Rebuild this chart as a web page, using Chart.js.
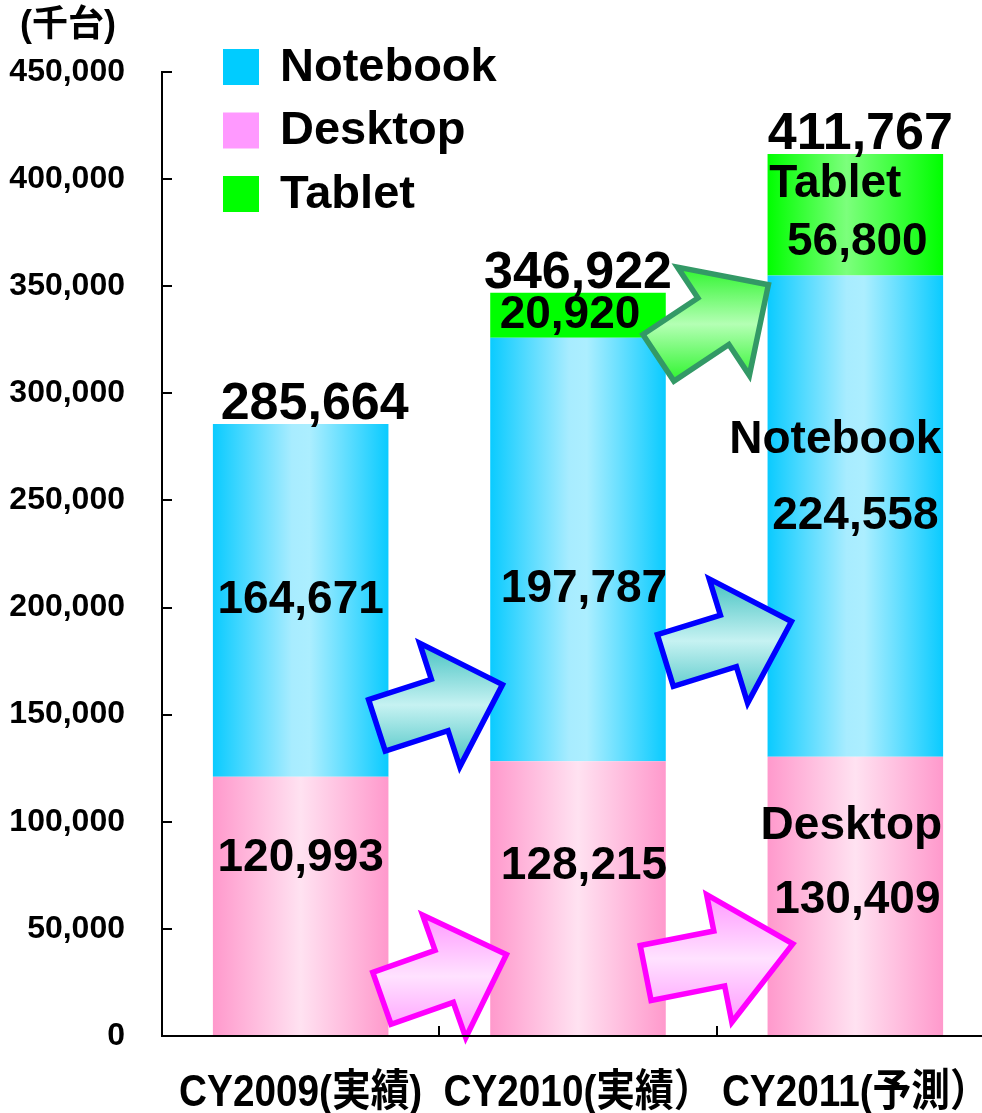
<!DOCTYPE html>
<html>
<head>
<meta charset="utf-8">
<script src="https://cdn.jsdelivr.net/npm/chart.js@4.4.0/dist/chart.umd.min.js"></script>
<style>
  html, body { margin: 0; padding: 0; background: #fff; overflow: hidden; }
  #wrap { width: 994px; height: 1113px; }
</style>
</head>
<body>
<div id="wrap"><canvas id="myChart" width="994" height="1113"></canvas></div>
<script>
const years = ['CY2009(実績)', 'CY2010(実績）', 'CY2011(予測）'];
const desktop = [120993, 128215, 130409];
const notebook = [164671, 197787, 224558];
const tablet = [null, 20920, 56800];
const totals = [285664, 346922, 411767];
const yTicks = [0, 50000, 100000, 150000, 200000, 250000, 300000, 350000, 400000, 450000];
const seriesNames = ['Desktop', 'Notebook', 'Tablet'];

const FONT = '"Liberation Sans", Arial, "Noto Sans CJK JP", sans-serif';
const barPct = 0.633;

const barFill = (stops, solidAt) => (ctx) => {
  const chart = ctx.chart;
  if (!chart.chartArea || ctx.dataIndex === undefined) return stops[0][1];
  if (solidAt && solidAt[ctx.dataIndex]) return solidAt[ctx.dataIndex];
  const xs = chart.scales.x;
  const cx = xs.getPixelForValue(ctx.dataIndex);
  const half = xs.width / years.length * barPct / 2;
  const g = chart.ctx.createLinearGradient(cx - half, 0, cx + half, 0);
  stops.forEach(([o, c]) => g.addColorStop(o, c));
  return g;
};

// decorative trend arrows (tail position in category / value units)
const arrows = [
  {at: [0.275, 145000], angle: -18, len: 132, headLen: 66, shaft: 54, head: 130, stroke: '#0000FF', fill: ['#44C2C2', '#C6F2F2', '#44C2C2']},
  {at: [1.315, 175300], angle: -17.2, len: 132, headLen: 66, shaft: 54, head: 130, stroke: '#0000FF', fill: ['#44C2C2', '#C6F2F2', '#44C2C2']},
  {at: [0.293, 17600], angle: -19.4, len: 132, headLen: 66, shaft: 55, head: 130, stroke: '#FF00FF', fill: ['#FF99FF', '#FFE2FF', '#FF99FF']},
  {at: [1.244, 29400], angle: -11.2, len: 150, headLen: 75, shaft: 56, head: 130, stroke: '#FF00FF', fill: ['#FF99FF', '#FFE2FF', '#FF99FF']},
  {at: [1.290, 316600], angle: -33.6, len: 132, headLen: 66, shaft: 56, head: 130, stroke: '#339966', fill: ['#2EF52E', '#B4FFB4', '#2EF52E']}
];

const drawArrow = (ctx, a, xs, ys) => {
  const x0 = xs.getPixelForValue(0), step = xs.getPixelForValue(1) - x0;
  const tx = x0 + a.at[0] * step, ty = ys.getPixelForValue(a.at[1]);
  const sw = a.shaft / 2, hw = a.head / 2, L = a.len, H = a.len - a.headLen;
  const local = [[0, -sw], [H, -sw], [H, -hw], [L, 0], [H, hw], [H, sw], [0, sw]];
  const r = a.angle * Math.PI / 180, c = Math.cos(r), s = Math.sin(r);
  const pts = local.map(([u, v]) => [tx + u * c - v * s, ty + u * s + v * c]);
  const ysArr = pts.map(p => p[1]);
  const top = Math.min(...ysArr), bot = Math.max(...ysArr);
  const g = ctx.createLinearGradient(0, top, 0, bot);
  g.addColorStop(0, a.fill[0]);
  g.addColorStop(0.5, a.fill[1]);
  g.addColorStop(1, a.fill[2]);
  ctx.beginPath();
  pts.forEach(([px, py], i) => i ? ctx.lineTo(px, py) : ctx.moveTo(px, py));
  ctx.closePath();
  ctx.fillStyle = g;
  ctx.fill();
  ctx.lineWidth = 5.5;
  ctx.lineJoin = 'miter';
  ctx.strokeStyle = a.stroke;
  ctx.stroke();
};

// label nudges in px: [series][year]
const valueNudge = [[-48, -32, 4], [0, 40, 0], [0, 0, 28]];
const valueShiftX = [[0, 6, 2], [0, 6, 0], [0, -8, 2]];
const nameNudge = [[null, null, -70], [null, null, -76], [null, null, -30]];
const nameShiftX = [-4, -20, -20];
const totalShiftX = [14, 0, 5];

const decor = {
  id: 'decor',
  afterDatasetsDraw(chart) {
    const ctx = chart.ctx;
    const xs = chart.scales.x, ys = chart.scales.y;
    ctx.save();
    arrows.forEach(a => drawArrow(ctx, a, xs, ys));

    ctx.fillStyle = '#000';
    ctx.textAlign = 'center';
    ctx.textBaseline = 'middle';
    chart.data.datasets.forEach((ds, di) => {
      const meta = chart.getDatasetMeta(di);
      meta.data.forEach((el, i) => {
        const v = ds.data[i];
        if (v === null) return;
        const cy = (el.y + el.base) / 2;
        ctx.font = 'bold 46px ' + FONT;
        ctx.fillText(v.toLocaleString('en-US'), el.x + valueShiftX[di][i], cy + valueNudge[di][i]);
        if (nameNudge[di][i] !== null) {
          ctx.fillText(seriesNames[di], el.x + nameShiftX[di], cy + nameNudge[di][i]);
        }
      });
    });

    ctx.textBaseline = 'alphabetic';
    ctx.font = 'bold 52px ' + FONT;
    totals.forEach((t, i) => {
      ctx.fillText(t.toLocaleString('en-US'), xs.getPixelForValue(i) + totalShiftX[i], ys.getPixelForValue(t) - 5);
    });
    ctx.restore();
  },
  afterDraw(chart) {
    const ctx = chart.ctx;
    const xs = chart.scales.x, ys = chart.scales.y;
    const area = chart.chartArea;
    ctx.save();
    ctx.strokeStyle = '#000';
    ctx.lineWidth = 2;
    ctx.beginPath();
    yTicks.forEach(v => {
      const y = Math.round(ys.getPixelForValue(v));
      ctx.moveTo(area.left, y);
      ctx.lineTo(area.left + 10, y);
    });
    for (let i = 0; i < years.length - 1; i++) {
      const x = Math.round((xs.getPixelForValue(i) + xs.getPixelForValue(i + 1)) / 2);
      ctx.moveTo(x, area.bottom);
      ctx.lineTo(x, area.bottom - 10);
    }
    ctx.moveTo(area.left, area.bottom);
    ctx.lineTo(chart.width, area.bottom);
    ctx.stroke();

    // category labels, horizontally condensed like the original
    ctx.fillStyle = '#000';
    ctx.textAlign = 'center';
    ctx.textBaseline = 'middle';
    ctx.font = 'bold 44px ' + FONT;
    years.forEach((label, i) => {
      ctx.save();
      ctx.translate(xs.getPixelForValue(i), area.bottom + 58);
      ctx.scale(0.88, 1);
      ctx.fillText(label, 0, 0);
      ctx.restore();
    });

    ctx.textAlign = 'left';
    ctx.font = 'bold 36px ' + FONT;
    ctx.fillText('(千台)', 20, 26);

    const legend = [
      ['Notebook', '#00CCFF'],
      ['Desktop', '#FF99FF'],
      ['Tablet', '#00FF00']
    ];
    ctx.font = 'bold 47px ' + FONT;
    legend.forEach(([name, color], i) => {
      const y = 49 + i * 63.5;
      ctx.fillStyle = color;
      ctx.fillRect(223, y, 36, 36);
      ctx.fillStyle = '#000';
      ctx.fillText(name, 280, y + 19);
    });
    ctx.restore();
  }
};

const chart = new Chart(document.getElementById('myChart').getContext('2d'), {
  type: 'bar',
  data: {
    labels: years,
    datasets: [
      {
        label: 'Desktop',
        data: desktop,
        backgroundColor: barFill([[0, '#FF99CC'], [0.5, '#FFE2F1'], [1, '#FF99CC']])
      },
      {
        label: 'Notebook',
        data: notebook,
        backgroundColor: barFill([[0, '#0ACBFF'], [0.45, '#A8ECFF'], [0.55, '#ACEEFF'], [1, '#0ACBFF']])
      },
      {
        label: 'Tablet',
        data: tablet,
        backgroundColor: barFill([[0, '#00FF00'], [0.45, '#7CFF7C'], [1, '#00FF00']], {1: '#00FF00'})
      }
    ]
  },
  options: {
    responsive: false,
    animation: false,
    events: [],
    datasets: { bar: { barPercentage: barPct, categoryPercentage: 1 } },
    layout: { padding: { top: 72, left: 0, right: 0, bottom: 0 } },
    plugins: { legend: { display: false }, tooltip: { enabled: false } },
    scales: {
      x: {
        stacked: true,
        grid: { display: false, drawTicks: false },
        border: { display: false },
        ticks: { display: false },
        afterFit: (s) => { s.height = 77; }
      },
      y: {
        stacked: true,
        min: 0,
        max: 450000,
        grid: { display: false, drawTicks: false },
        border: { color: '#000', width: 2 },
        afterBuildTicks: (s) => { s.ticks = yTicks.map(v => ({ value: v })); },
        ticks: {
          color: '#000',
          padding: 37,
          font: { family: FONT, size: 32, weight: 'bold' },
          callback: (v) => v.toLocaleString('en-US')
        },
        afterFit: (s) => { s.width = 162; }
      }
    }
  },
  plugins: [decor]
});
</script>
</body>
</html>
